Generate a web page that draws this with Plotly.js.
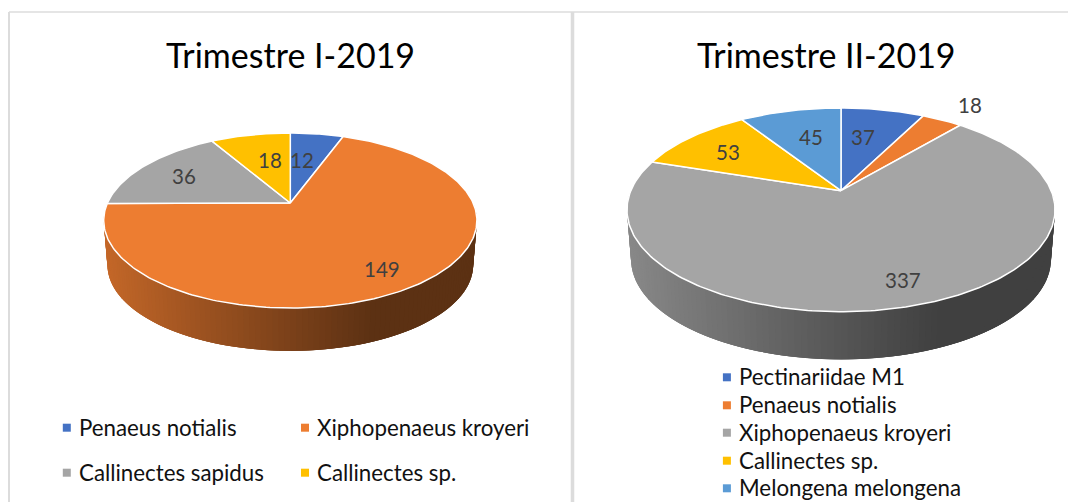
<!DOCTYPE html>
<html>
<head>
<meta charset="utf-8">
<script src="https://cdn.plot.ly/plotly-3.0.1.min.js"></script>
<style>html,body{margin:0;padding:0;background:#fff;overflow:hidden}#chart{width:1068px;height:502px}</style>
</head>
<body>
<div id="chart"></div>
<script>
// ---- data ----
const titleQ1 = "Trimestre I-2019";
const categoriesQ1 = ["Penaeus notialis", "Xiphopenaeus kroyeri", "Callinectes sapidus", "Callinectes sp."];
const valuesQ1 = [12, 149, 36, 18];
const colorsQ1 = ["#4472C4", "#ED7D31", "#A5A5A5", "#FFC000"];

const titleQ2 = "Trimestre II-2019";
const categoriesQ2 = ["Pectinariidae M1", "Penaeus notialis", "Xiphopenaeus kroyeri", "Callinectes sp.", "Melongena melongena"];
const valuesQ2 = [37, 18, 337, 53, 45];
const colorsQ2 = ["#4472C4", "#ED7D31", "#A5A5A5", "#FFC000", "#5B9BD5"];

// ---- placement (page-scale axis units) ----
const FONT = "Lato, Carlito, Calibri, 'Open Sans', sans-serif";
const pieQ1 = {cx: 290.3, cy: 203, up: 70, down: 105, half: 186.6, depth: 45, shrink: 0.98};
const pieQ2 = {cx: 841, cy: 190.7, up: 82.7, down: 121, half: 214, depth: 50, shrink: 0.981};
const labelXQ1 = [301.7, 381.5, 183.5, 269.6], labelYQ1 = [160, 268.5, 175.5, 160];
const labelXQ2 = [863, 970, 903, 727.5, 811], labelYQ2 = [136.5, 104.5, 280, 151.5, 136.5];
const legendXQ1 = [66.8, 305, 66.8, 305], legendYQ1 = [427.7, 427.7, 472.7, 472.7];
const legendXQ2 = [726.9, 726.9, 726.9, 726.9, 726.9], legendYQ2 = [377.3, 405.3, 432.7, 460.7, 488.3];

// ---- tilted disc projection ----
function projector(p) {
  const r = p.down / p.up, k = (r - 1) / (r + 1), b = p.down * (1 - k), a = p.half * Math.sqrt(1 - k * k);
  return function (deg, dy, s) {
    const t = deg * Math.PI / 180, u = Math.sin(t), v = -Math.cos(t), w = 1 - k * v;
    return [p.cx + s * a * u / w, p.cy + dy + s * b * v / w];
  };
}
function shade(hex, f) {
  const n = parseInt(hex.slice(1), 16);
  return "rgb(" + [n >> 16 & 255, n >> 8 & 255, n & 255].map(c => Math.round(c * f)).join(",") + ")";
}
function pieTraces(p, values, colors, names) {
  const proj = projector(p), total = values.reduce((a, b) => a + b, 0), out = [];
  const edges = [0];
  values.forEach(v => edges.push(edges[edges.length - 1] + v / total * 360));
  const colorAt = d => colors[Math.max(0, edges.findIndex(e => e > d) - 1)];
  // side wall: narrow shaded strips along the visible front; each overlaps the next to hide seams
  const step = 1.5, overlap = 3;
  for (let d = 90; d < 270; d += step) {
    const xs = [], ys = [], end = Math.min(d + step + overlap, 270);
    const top = [], bottom = [];
    for (let t = d; t <= end + 1e-6; t += 0.75) { top.push(proj(t, 0, 1)); bottom.unshift(proj(t, p.depth, p.shrink)); }
    top.concat(bottom).forEach(q => { xs.push(q[0]); ys.push(q[1]); });
    xs.push(xs[0]); ys.push(ys[0]);
    const mid = proj(d + step / 2, 0, 1);
    const frac = (mid[0] - (p.cx - p.half)) / (2 * p.half);
    const f = 0.39 + 0.44 * Math.max(0, 1 - frac / 0.75);
    const col = shade(colorAt(d + step / 2), f);
    // painted from the right edge to the left so that each strip's overlap falls on the next one drawn
    out.unshift({type: "scatter", mode: "lines", fill: "toself", fillcolor: col, line: {color: col, width: 0},
      x: xs, y: ys, hoverinfo: "skip", showlegend: false});
  }
  // top face wedges
  values.forEach((v, i) => {
    const xs = [p.cx], ys = [p.cy];
    for (let d = edges[i]; d < edges[i + 1]; d += 1) { const q = proj(d, 0, 1); xs.push(q[0]); ys.push(q[1]); }
    const q = proj(edges[i + 1], 0, 1); xs.push(q[0], p.cx); ys.push(q[1], p.cy);
    out.push({type: "scatter", mode: "lines", fill: "toself", fillcolor: colors[i], line: {color: "#FFFFFF", width: 1.5},
      x: xs, y: ys, name: names[i], text: names[i] + ": " + v, hoverinfo: "text", showlegend: false});
  });
  return out;
}
function legendTrace(xs, ys, colors) {
  return {type: "scatter", mode: "markers", x: xs, y: ys, hoverinfo: "skip", showlegend: false,
    marker: {symbol: "square", size: 8, color: colors}};
}
function textNote(text, x, y, size, color, anchor) {
  return {text: text, x: x, y: y, xref: "x", yref: "y", xanchor: anchor, yanchor: "middle", showarrow: false,
    font: {family: FONT, size: size, color: color}};
}

const traces = [].concat(
  pieTraces(pieQ1, valuesQ1, colorsQ1, categoriesQ1),
  pieTraces(pieQ2, valuesQ2, colorsQ2, categoriesQ2),
  [legendTrace(legendXQ1, legendYQ1, colorsQ1), legendTrace(legendXQ2, legendYQ2, colorsQ2)]
);

const annotations = [
  textNote(titleQ1, 290.5, 54.5, 34, "#000000", "center"),
  textNote(titleQ2, 826.5, 54.5, 34, "#000000", "center")
];
valuesQ1.forEach((v, i) => annotations.push(textNote(String(v), labelXQ1[i], labelYQ1[i], 20.5, "#404040", "center")));
valuesQ2.forEach((v, i) => annotations.push(textNote(String(v), labelXQ2[i], labelYQ2[i], 20.5, "#404040", "center")));
categoriesQ1.forEach((c, i) => annotations.push(textNote(c, legendXQ1[i] + 10, legendYQ1[i] - 0.5, 22.3, "#111111", "left")));
categoriesQ2.forEach((c, i) => annotations.push(textNote(c, legendXQ2[i] + 10.5, legendYQ2[i] - 0.5, 22.3, "#111111", "left")));

const frame = (x0, y0, x1, y1, w) => ({type: "line", xref: "x", yref: "y", x0, y0, x1, y1, line: {color: "#DCDCDC", width: w}});

const layout = {
  width: 1068, height: 502,
  margin: {l: 0, r: 0, t: 0, b: 0, pad: 0},
  paper_bgcolor: "#FFFFFF", plot_bgcolor: "#FFFFFF",
  showlegend: false,
  xaxis: {range: [0, 1068], visible: false, fixedrange: true},
  yaxis: {range: [502, 0], visible: false, fixedrange: true},
  shapes: [frame(9, 12, 1068, 12, 1.5), frame(9, 12, 9, 502, 2), frame(572.5, 12, 572.5, 502, 3.5)],
  annotations: annotations
};
Plotly.newPlot("chart", traces, layout, {displayModeBar: false, staticPlot: true});
</script>
</body>
</html>
